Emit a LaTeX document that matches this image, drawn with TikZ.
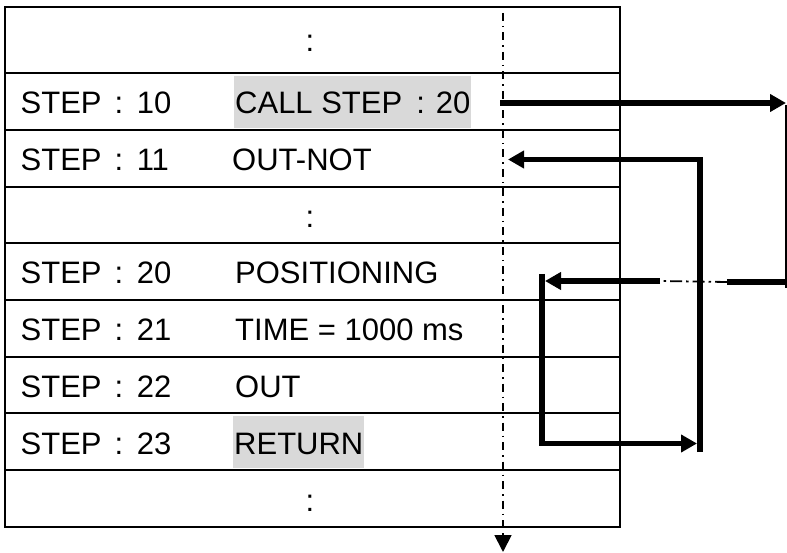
\documentclass[tikz,border=0pt]{standalone}
\usepackage{fontspec}
\setmainfont{Liberation Sans}
\usetikzlibrary{arrows.meta}
\definecolor{hl}{RGB}{217,217,217}
% step number with the wide colon spacing used in the listing
\newcommand\steplabel[1]{STEP\hspace{13pt}:\hspace{13.5pt}#1}
\begin{document}
\begin{tikzpicture}[x=1pt,y=-1pt,
  txt/.style={anchor=base west, inner sep=0pt, font=\fontsize{31}{36}\selectfont},
  vdots/.style={anchor=base, inner sep=0pt, font=\fontsize{31}{36}\selectfont},
  hilite/.style={txt, fill=hl, inner xsep=1pt, inner ysep=0pt, text height=38pt, text depth=14pt},
  grid/.style={line width=2.3pt},
  flow/.style={line width=5.5pt, -{Triangle[length=16pt,width=17pt]}},
  bar/.style={line width=5.5pt},
  thin/.style={line width=2.2pt},
  chain/.style={line width=1.8pt, dash pattern=on 12pt off 4pt on 2.5pt off 4pt},
  axis/.style={line width=1.8pt, dash pattern=on 8pt off 5pt on 1.5pt off 5pt,
    -{Triangle[length=17pt,width=17pt]}}
]
\useasboundingbox (0,0) rectangle (787,553);

% program table
\draw[grid] (5,7) rectangle (620,527);
\foreach \yy in {73,130,187,243,300,357,413,470}
  \draw[grid] (5,\yy) -- (620,\yy);

% rows
\node[vdots] (r0) at (310,52) {:};
\node[txt] (s10) at (20.5,114) {\steplabel{10}};
\node[hilite] (i10) at (234,114) {CALL STEP\hspace{14pt}:\hspace{11pt}20};
\node[txt] (s11) at (20.5,171) {\steplabel{11}};
\node[txt] (i11) at (232,171) {OUT-NOT};
\node[vdots] (r1) at (310,227.5) {:};
\node[txt] (s20) at (20.5,284) {\steplabel{20}};
\node[txt] (i20) at (235,284) {POSITIONING};
\node[txt] (s21) at (20.5,341) {\steplabel{21}};
\node[txt] (i21) at (235,341) {TIME = 1000 ms};
\node[txt] (s22) at (20.5,397.5) {\steplabel{22}};
\node[txt] (i22) at (235,397.5) {OUT};
\node[txt] (s23) at (20.5,454) {\steplabel{23}};
\node[hilite] (i23) at (233,454) {RETURN\hspace{4pt}};
\node[vdots] (r2) at (310,511) {:};

% execution line
\coordinate (axtop) at (503,13);
\coordinate (axend) at (503,552);
\draw[axis] (axtop) -- (axend);

% subroutine call
\coordinate (callA) at (500,103);
\coordinate (callB) at (786,103);
\coordinate (callC) at (786,288);
\draw[flow] (callA) -- (callB);
\draw[thin] ([yshift=-2pt]callB) -- (callC);

% jump into the subroutine
\coordinate (jR) at (786,282);
\coordinate (jM) at (727,282);
\coordinate (jL) at (660,281);
\coordinate (jT) at (545,281);
\draw[bar] (jR) -- (jM);
\draw[chain] (jM) -- (jL);
\draw[flow] (jL) -- (jT);

% return at the end of the subroutine
\coordinate (subTop) at (542,274);
\coordinate (subBot) at (542,443.5);
\coordinate (retTip) at (697,443.5);
\draw[flow] (subTop) -- (subBot) -- (retTip);

% back to the step after the call
\coordinate (backBot) at (700,452);
\coordinate (backTop) at (700,159.5);
\coordinate (backTip) at (508,159.5);
\draw[flow] (backBot) -- (backTop) -- (backTip);
\end{tikzpicture}
\end{document}
